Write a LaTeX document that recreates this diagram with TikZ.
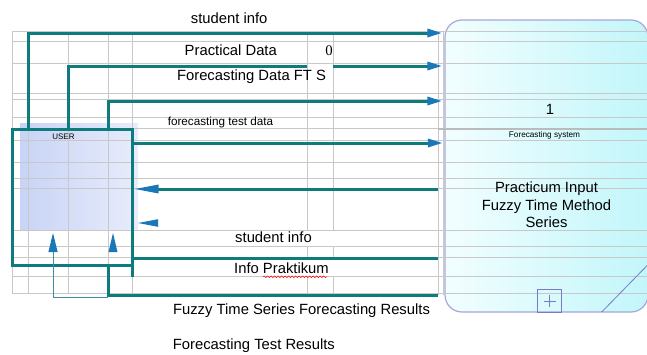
\documentclass[tikz,border=0pt]{standalone}
\usepackage{fontspec}
\setmainfont{Liberation Sans}
\newfontfamily\zerofont{Liberation Serif}
\usetikzlibrary{arrows.meta,decorations.pathmorphing}
\definecolor{T0}{HTML}{0E7C7C}
\definecolor{T1}{HTML}{3D8FA0}
\definecolor{B0}{HTML}{1A78B8}
\definecolor{G0}{HTML}{C8C8C8}
\definecolor{G1}{HTML}{BBBBBB}
\definecolor{L0}{HTML}{A6A6D8}
\definecolor{L1}{HTML}{7A7AC8}
\definecolor{U0}{HTML}{C8D4F6}
\definecolor{U1}{HTML}{E8ECFB}
\definecolor{S0}{HTML}{F2FEFF}
\definecolor{S1}{HTML}{C2F6FA}
\tikzset{
  flow/.style={draw=T0, line width=3pt},
  tipr/.style={-{Triangle[length=15pt,width=8pt,color=B0]}},
  tipl/.style={-{Triangle[length=25pt,width=8pt,color=B0]}},
  gridln/.style={draw=G0, line width=0.7pt},
  lbl/.style={font=\fontsize{14.8}{17.5}\selectfont, inner sep=0pt, anchor=base},
  smalllbl/.style={font=\fontsize{8.2}{9}\selectfont, inner sep=0pt, anchor=base},
}

\begin{document}
\begin{tikzpicture}[x=1pt, y=-1pt]%
\useasboundingbox (0,0) rectangle (647,354);%
% fills
\fill[left color=U0, right color=U1] (20,123) rectangle (138,230);%
\node[draw=L0, line width=1.2pt, rounded corners=17pt, minimum width=203pt, minimum height=292pt, left color=S0, right color=S1] (sys) at (546.5,166) {};%
% grid
\foreach \y in {31,41,63,93,99,117,128,140,162,178,188,230,246,257,276,293}
  \draw[gridln] (12,\y) -- (647,\y);%
\foreach \x in {12,28,68,108,132}
  \draw[gridln] (\x,31) -- (\x,293);%
\foreach \x in {307,333} {
  \draw[gridln] (\x,31) -- (\x,230);%
  \draw[gridln] (\x,246) -- (\x,257);%
  \draw[gridln] (\x,276) -- (\x,293);%
}
\foreach \x in {438,443}
  \draw[gridln] (\x,31) -- (\x,295);%
\draw[draw=G1, line width=2.5pt] (438,129) -- (647,129);%
% expand box
\node[draw=L1, line width=0.8pt, minimum width=24pt, minimum height=23.4pt, inner sep=0pt] (plus) at (549.7,301) {};%
\draw[L1, line width=0.6pt] ([xshift=-6pt]plus.center) -- ([xshift=6pt]plus.center);%
\draw[L1, line width=0.6pt] ([yshift=-6pt]plus.center) -- ([yshift=6pt]plus.center);%
\draw[L1, line width=0.8pt] (601.7,312) -- (652,260.5);%
% user
\node[draw=T0, line width=3pt, minimum width=120pt, minimum height=136pt, inner sep=0pt] (user) at (72,197) {};%
\coordinate (x1) at (28,0);%
\coordinate (x2) at (68,0);%
\coordinate (x3) at (108,0);%
\coordinate (gapl) at (307,0);%
\coordinate (gapr) at (333,0);%
\coordinate (l1) at (0,33);%
\coordinate (l2) at (0,66);%
\coordinate (l3) at (0,101);%
\coordinate (l4) at (0,143);%
\coordinate (l5) at (0,189);%
\coordinate (l6) at (0,258);%
\coordinate (l7) at (0,295);%
\coordinate (l8) at (0,297);%
% flows
\draw[flow, tipr, shorten >=2pt] (user.north -| x1) |- (sys.west |- l1);%
\draw[flow] (user.north -| x2) |- (gapl |- l2);%
\draw[flow, tipr, shorten >=2pt] (gapr |- l2) -- (sys.west |- l2);%
\draw[flow, tipr, shorten >=2pt] (user.north -| x3) |- (sys.west |- l3);%
\draw[flow, tipr, shorten >=1.5pt] (user.east |- l4) -- (sys.west |- l4);%
\draw[flow, tipl, shorten <=6pt] (sys.west |- l5) -- (user.east |- l5);%
\fill[B0] (138,223) -- (158,219.2) -- (158,226.8) -- cycle;%
\draw[flow, shorten >=6pt] (user.east |- l6) -- (sys.west |- l6);%
\draw[flow, shorten >=6pt] (user.south -| x3) |- (sys.west |- l7);%
\draw[flow] ([xshift=-1.5pt]user.south east) -- ++(0,10);%
\draw[T1, line width=1pt, -{Triangle[length=19pt,width=9pt,color=B0]}] (user.south -| x3) ++(0,30.5) -| (53,233);%
\fill[B0] (113,233) -- (117.5,252) -- (108.5,252) -- cycle;%
% labels
\node[lbl] (infotop) at (229.2,23) {student info};%
\node[lbl] (practical) at (230.8,55) {Practical Data};%
\node[lbl, font=\fontsize{14.8}{17.5}\zerofont] (zero) at (329,55) {0};%
\node[lbl] (fcdata) at (251.5,80.5) {Forecasting Data FT S};%
\node[lbl, font=\fontsize{11.7}{13}\selectfont] (testdata) at (220.5,125.2) {forecasting test data};%
\node[smalllbl, font=\fontsize{8}{9}\selectfont] (userlbl) at (63.5,139) {USER};%
\node[lbl] (one) at (550,114) {1};%
\node[smalllbl] (syslbl) at (544.5,137.6) {Forecasting system};%
\node[lbl, anchor=north, align=center] (proc) at (546.5,181.7) {Practicum Input\\Fuzzy Time Method\\Series};%
\node[lbl] (infolow) at (273.5,242.7) {student info};%
\node[lbl] (prakt) at (281.5,273.3) {Info Praktikum};%
\draw[red, line width=0.5pt, decorate, decoration={snake, amplitude=0.9pt, segment length=3.5pt}] (263,276.8) -- (327,276.8);%
\node[lbl] (ftsres) at (301.5,314.7) {Fuzzy Time Series Forecasting Results};%
\node[lbl] (testres) at (253.9,349.3) {Forecasting Test Results};%
\end{tikzpicture}
\end{document}
